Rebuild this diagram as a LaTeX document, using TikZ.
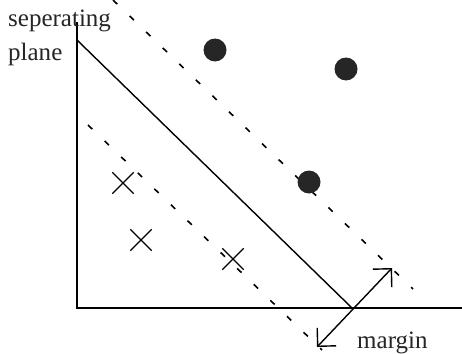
\documentclass[tikz,border=0pt]{standalone}
\usepackage{fontspec}
\setmainfont{Liberation Serif}
\usetikzlibrary{arrows.meta,shapes.misc}

\begin{document}
\begin{tikzpicture}[
  x=1pt,y=-1pt,
  axis/.style={line width=1.4pt},
  plane/.style={line width=1.4pt},
  marginline/.style={line width=1.6pt,dash pattern=on 6pt off 17pt},
  dot/.style={circle,fill=black!85,inner sep=0pt,minimum size=23pt},
  cross/.style={cross out,draw,line width=1.3pt,inner sep=0pt,minimum size=20pt},
  label/.style={font=\fontsize{25}{30}\selectfont,text=black!85,inner sep=0pt,anchor=base west},
  barb/.tip={Straight Barb[length=13pt,width=26pt,line cap=butt]}
]
  \useasboundingbox (0,0) rectangle (462,353);
  % axes
  \coordinate (origin) at (77,308);
  \coordinate (ytop) at (77,22);
  \coordinate (xend) at (462,308);
  \draw[axis] (ytop) -- (origin) -- (xend);
  % separating plane and margins
  \coordinate (planetop) at (77,40);
  \coordinate (planebot) at (352,308);
  \draw[plane] (planetop) -- (planebot);
  \coordinate (uptop) at (113,0);
  \coordinate (upbot) at (413,289);
  \draw[marginline] (uptop) -- (upbot);
  \coordinate (lowtop) at (88,125);
  \coordinate (lowbot) at (322,350);
  \draw[marginline] (lowtop) -- (lowbot);
  % margin arrow
  \coordinate (mup) at (392,268);
  \coordinate (mdown) at (317,347);
  \draw[line width=1.4pt,barb-barb] (mdown) -- (mup);
  % class one
  \node[dot] (d1) at (215,50) {};
  \node[dot] (d2) at (346,69) {};
  \node[dot] (d3) at (309,182) {};
  % class two
  \node[cross] (c1) at (123,183) {};
  \node[cross] (c2) at (141,240) {};
  \node[cross] (c3) at (233,259) {};
  % labels
  \node[label] (seplabel) at (8,27) {seperating};
  \node[label] (planelabel) at (8,60) {plane};
  \node[label] (marginlabel) at (357,348) {margin};
\end{tikzpicture}
\end{document}
